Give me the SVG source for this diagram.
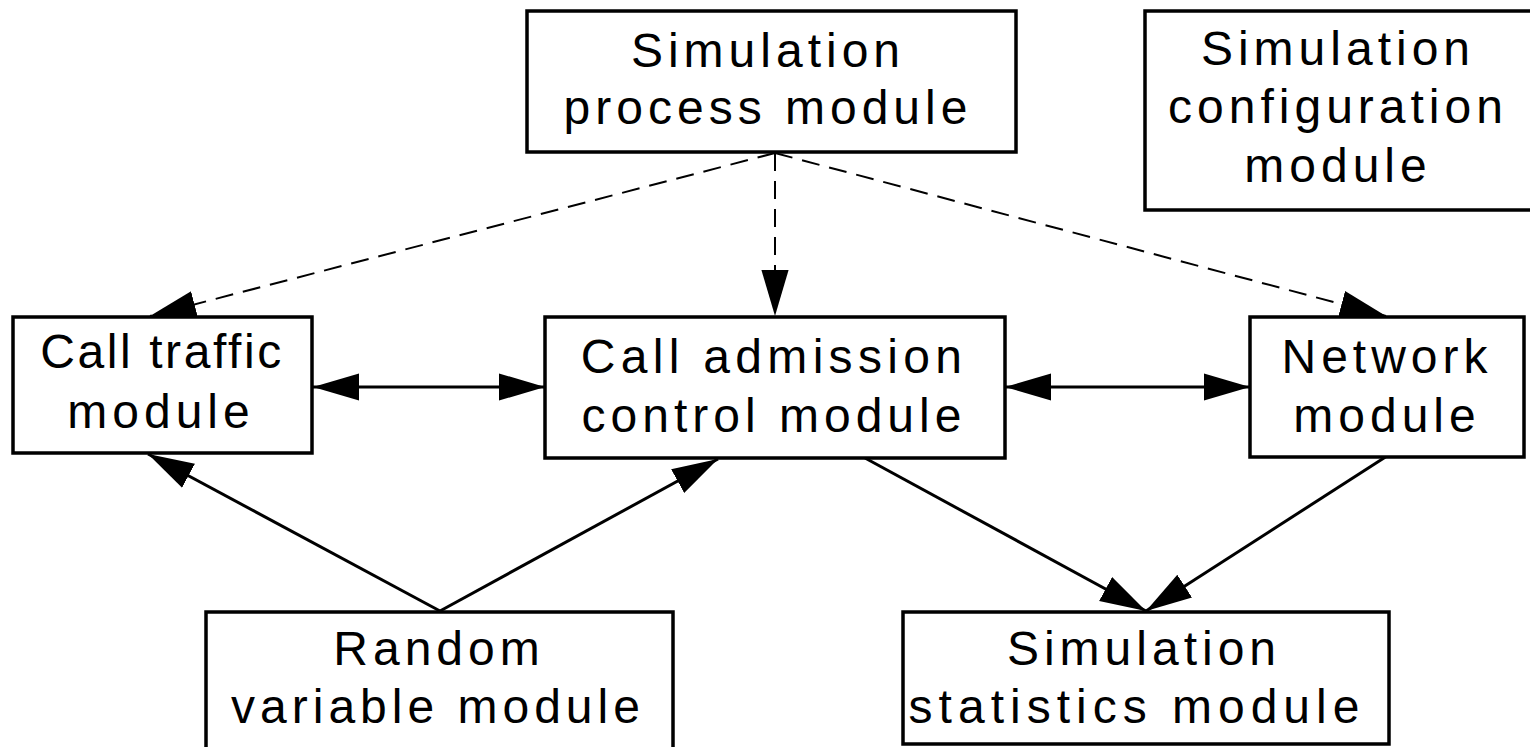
<svg xmlns="http://www.w3.org/2000/svg" width="1530" height="747" viewBox="0 0 1530 747">
  <style>
    .box { fill: #ffffff; stroke: #000000; stroke-width: 3.5; }
    .lbl { font-family: "Liberation Sans", Arial, sans-serif; font-size: 48px; letter-spacing: 5px; fill: #000000; text-anchor: middle; }
    .edge { fill: none; stroke: #000000; stroke-width: 3; }
    .dash { stroke-dasharray: 18 10; stroke-width: 2; }
  </style>
  <defs>
    <marker id="head" markerUnits="userSpaceOnUse" markerWidth="46" markerHeight="30" viewBox="0 0 44 26" refX="44" refY="13" orient="auto-start-reverse">
      <path d="M0,0 L44,13 L0,26 Z" fill="#000000"/>
    </marker>
  </defs>
  <rect width="1530" height="747" fill="#ffffff"/>

  <g id="connectors">
    <!-- dashed control flow from the process module -->
    <line class="edge dash" x1="775" y1="153" x2="150" y2="316" marker-end="url(#head)"/>
    <line class="edge dash" x1="775" y1="153" x2="775" y2="316" marker-end="url(#head)"/>
    <line class="edge dash" x1="775" y1="153" x2="1386" y2="316" marker-end="url(#head)"/>
    <!-- bidirectional links -->
    <line class="edge" x1="313" y1="387" x2="545" y2="387" marker-start="url(#head)" marker-end="url(#head)"/>
    <line class="edge" x1="1005" y1="387" x2="1250" y2="387" marker-start="url(#head)" marker-end="url(#head)"/>
    <!-- random variable feeds -->
    <line class="edge" x1="440" y1="611" x2="148" y2="454" marker-end="url(#head)"/>
    <line class="edge" x1="440" y1="611" x2="718" y2="459" marker-end="url(#head)"/>
    <!-- statistics collection -->
    <line class="edge" x1="865" y1="458" x2="1146" y2="611" marker-end="url(#head)"/>
    <line class="edge" x1="1387" y1="456" x2="1146" y2="611" marker-end="url(#head)"/>
  </g>

  <g id="process">
    <rect class="box" x="527" y="11" width="489" height="141"/>
    <text class="lbl" x="768" y="67">Simulation</text>
    <text class="lbl" x="768" y="124">process module</text>
  </g>

  <g id="configuration">
    <rect class="box" x="1145" y="11" width="400" height="199"/>
    <text class="lbl" x="1338" y="65">Simulation</text>
    <text class="lbl" x="1338" y="123">configuration</text>
    <text class="lbl" x="1338" y="182">module</text>
  </g>

  <g id="traffic">
    <rect class="box" x="13" y="317" width="299" height="136"/>
    <text class="lbl" x="162" y="368" style="letter-spacing:2.6px">Call traffic</text>
    <text class="lbl" x="161" y="428">module</text>
  </g>

  <g id="admission">
    <rect class="box" x="545" y="317" width="460" height="141"/>
    <text class="lbl" x="774" y="373" style="letter-spacing:5.3px">Call admission</text>
    <text class="lbl" x="774" y="432">control module</text>
  </g>

  <g id="network">
    <rect class="box" x="1250" y="317" width="274" height="140"/>
    <text class="lbl" x="1387" y="373">Network</text>
    <text class="lbl" x="1387" y="432">module</text>
  </g>

  <g id="random">
    <rect class="box" x="206" y="612" width="467" height="150"/>
    <text class="lbl" x="439" y="665">Random</text>
    <text class="lbl" x="438" y="723">variable module</text>
  </g>

  <g id="statistics">
    <rect class="box" x="903" y="612" width="486" height="132"/>
    <text class="lbl" x="1144" y="665">Simulation</text>
    <text class="lbl" x="1137" y="723" style="letter-spacing:6px">statistics module</text>
  </g>
</svg>
